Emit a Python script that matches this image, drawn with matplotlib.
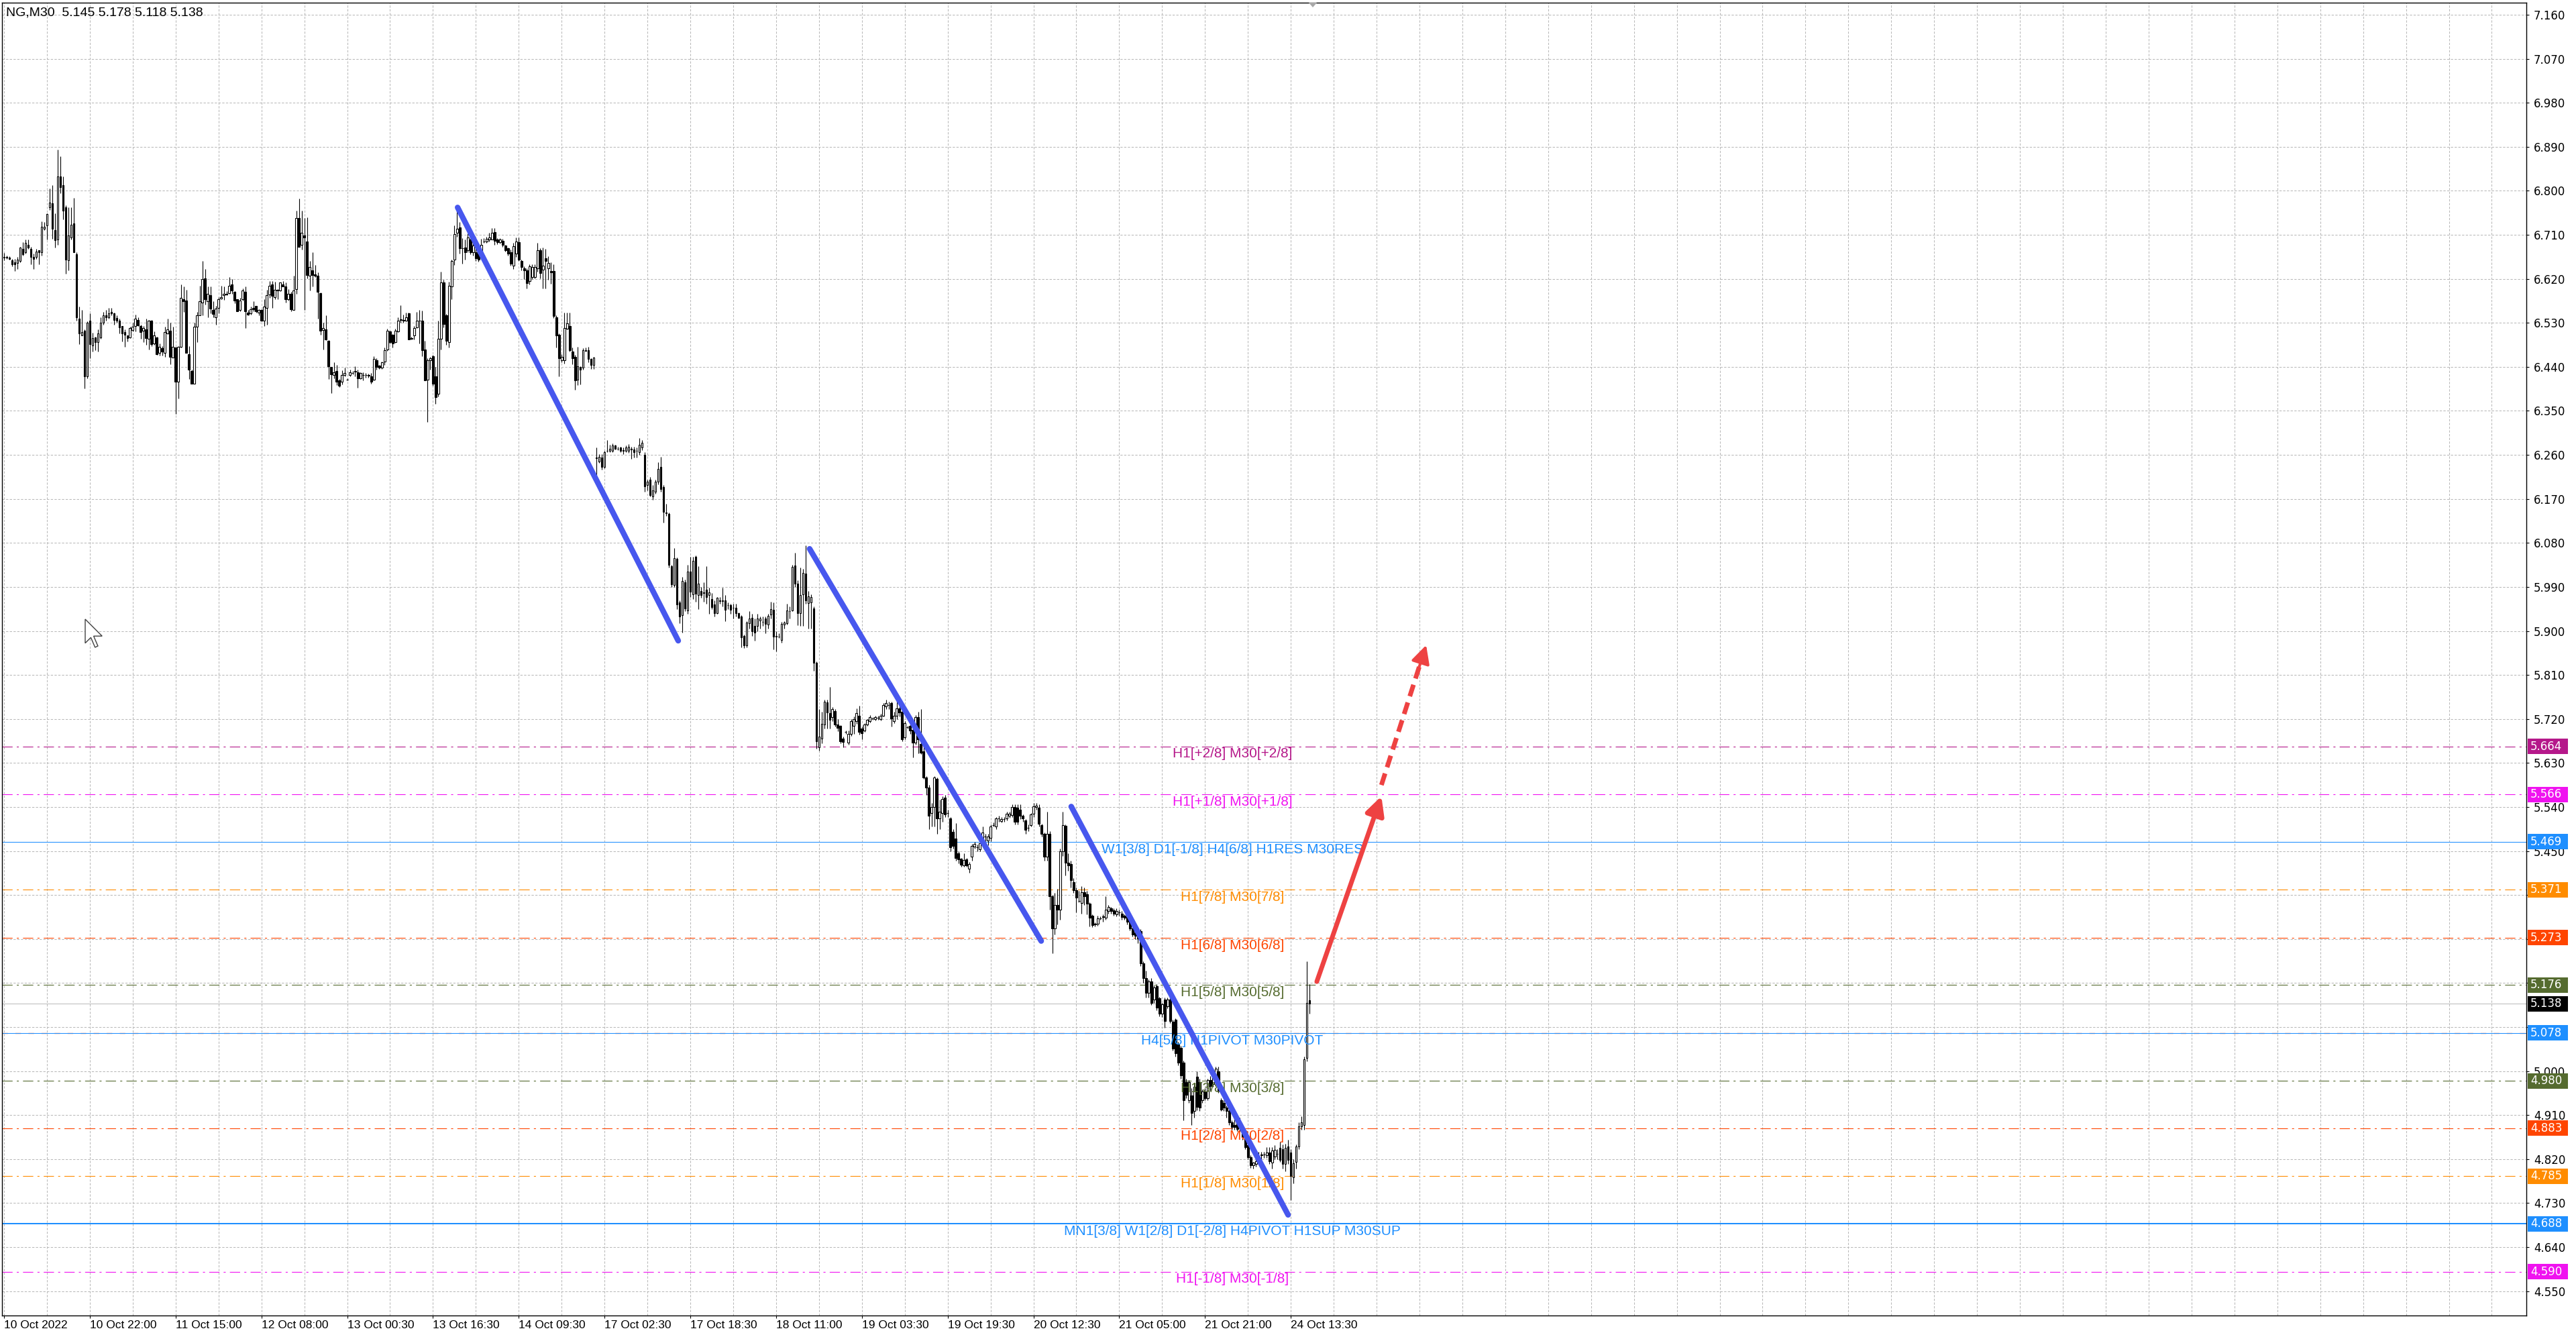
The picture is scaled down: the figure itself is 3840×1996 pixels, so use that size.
import numpy as np
import matplotlib
matplotlib.use('Agg')
import matplotlib.pyplot as plt
from matplotlib.patches import Rectangle, Polygon
import matplotlib.transforms as mtransforms

plt.rcParams['lines.scale_dashes'] = False

# ---- NG M30 candles (bar 0 = first visible bar) ----
opens = [
    6.664, 6.665, 6.664, 6.658, 6.654, 6.653, 6.656, 6.681, 6.674, 6.690,
    6.681, 6.665, 6.665, 6.678, 6.674, 6.722, 6.729, 6.766, 6.774, 6.720,
    6.700, 6.829, 6.811, 6.766, 6.658, 6.705, 6.733, 6.670, 6.539, 6.504,
    6.514, 6.420, 6.535, 6.484, 6.500, 6.491, 6.500, 6.530, 6.545, 6.542,
    6.552, 6.549, 6.540, 6.535, 6.523, 6.511, 6.505, 6.500, 6.515, 6.523,
    6.536, 6.524, 6.514, 6.516, 6.497, 6.535, 6.488, 6.500, 6.468, 6.478,
    6.469, 6.508, 6.514, 6.459, 6.479, 6.409, 6.481, 6.578, 6.576, 6.466,
    6.432, 6.405, 6.522, 6.545, 6.572, 6.621, 6.574, 6.586, 6.557, 6.541,
    6.561, 6.580, 6.586, 6.589, 6.591, 6.608, 6.593, 6.578, 6.556, 6.579,
    6.593, 6.551, 6.550, 6.560, 6.564, 6.551, 6.556, 6.535, 6.561, 6.588,
    6.609, 6.583, 6.596, 6.596, 6.608, 6.605, 6.578, 6.589, 6.556, 6.599,
    6.744, 6.689, 6.709, 6.696, 6.627, 6.638, 6.629, 6.627, 6.591, 6.515,
    6.516, 6.494, 6.440, 6.424, 6.431, 6.412, 6.410, 6.424, 6.414, 6.424,
    6.428, 6.430, 6.429, 6.416, 6.424, 6.423, 6.423, 6.421, 6.414, 6.454,
    6.442, 6.438, 6.451, 6.476, 6.513, 6.506, 6.491, 6.513, 6.536, 6.536,
    6.535, 6.549, 6.498, 6.504, 6.521, 6.535, 6.535, 6.476, 6.414, 6.453,
    6.462, 6.420, 6.385, 6.498, 6.613, 6.546, 6.491, 6.604, 6.660, 6.714,
    6.725, 6.682, 6.684, 6.679, 6.700, 6.674, 6.674, 6.672, 6.667, 6.697,
    6.697, 6.700, 6.700, 6.715, 6.700, 6.695, 6.698, 6.688, 6.682, 6.674,
    6.647, 6.672, 6.695, 6.657, 6.642, 6.637, 6.615, 6.624, 6.623, 6.641,
    6.679, 6.639, 6.662, 6.641, 6.636, 6.636, 6.541, 6.506, 6.454, 6.453,
    6.518, 6.524, 6.472, 6.461, 6.414, 6.440, 6.439, 6.473, 6.474, 6.456,
    6.444, 6.254, 6.247, 6.255, 6.235, 6.268, 6.268, 6.268, 6.279, 6.273,
    6.275, 6.270, 6.268, 6.268, 6.272, 6.271, 6.268, 6.266, 6.275, 6.260,
    6.198, 6.210, 6.175, 6.185, 6.205, 6.235, 6.194, 6.142, 6.140, 6.033,
    5.994, 6.047, 5.959, 5.932, 5.999, 5.942, 6.021, 5.975, 6.051, 5.974,
    5.982, 5.979, 5.984, 5.973, 5.965, 5.954, 5.937, 5.962, 5.961, 5.963,
    5.953, 5.953, 5.948, 5.948, 5.936, 5.930, 5.890, 5.871, 5.916, 5.927,
    5.911, 5.911, 5.921, 5.918, 5.925, 5.913, 5.933, 5.943, 5.889, 5.888,
    5.881, 5.913, 5.916, 5.940, 5.942, 6.034, 5.997, 5.937, 5.975, 6.017,
    5.957, 5.959, 5.946, 5.835, 5.662, 5.680, 5.709, 5.754, 5.732, 5.724,
    5.736, 5.709, 5.706, 5.680, 5.693, 5.672, 5.690, 5.706, 5.715, 5.727,
    5.700, 5.697, 5.709, 5.715, 5.721, 5.720, 5.722, 5.720, 5.727, 5.746,
    5.749, 5.752, 5.716, 5.727, 5.742, 5.735, 5.683, 5.703, 5.706, 5.698,
    5.671, 5.724, 5.669, 5.654, 5.600, 5.580, 5.528, 5.540, 5.598, 5.516,
    5.528, 5.559, 5.528, 5.517, 5.489, 5.476, 5.446, 5.434, 5.421, 5.433,
    5.414, 5.439, 5.459, 5.457, 5.454, 5.471, 5.479, 5.471, 5.477, 5.503,
    5.500, 5.516, 5.511, 5.515, 5.516, 5.522, 5.524, 5.540, 5.538, 5.534,
    5.522, 5.513, 5.497, 5.503, 5.526, 5.540, 5.538, 5.503, 5.485, 5.439,
    5.485, 5.357, 5.292, 5.340, 5.330, 5.449, 5.501, 5.426, 5.423, 5.387,
    5.370, 5.348, 5.344, 5.366, 5.362, 5.342, 5.318, 5.301, 5.301, 5.312,
    5.315, 5.313, 5.327, 5.333, 5.329, 5.320, 5.324, 5.322, 5.318, 5.315,
    5.307, 5.292, 5.283, 5.278, 5.286, 5.220, 5.190, 5.160, 5.183, 5.146,
    5.174, 5.149, 5.117, 5.146, 5.133, 5.146, 5.101, 5.105, 5.055, 5.048,
    5.018, 4.977, 4.941, 4.950, 4.918, 4.989, 4.977, 4.941, 4.959, 4.945,
    4.982, 4.973, 4.982, 5.000, 4.941, 4.935, 4.925, 4.918, 4.895, 4.890,
    4.895, 4.895, 4.880, 4.863, 4.849, 4.824, 4.807, 4.810, 4.825, 4.828,
    4.829, 4.828, 4.834, 4.813, 4.825, 4.831, 4.843, 4.840, 4.810, 4.846,
    4.834, 4.783, 4.815, 4.846, 4.887, 4.890, 5.027, 5.145,
]
highs = [
    6.673, 6.668, 6.666, 6.661, 6.661, 6.665, 6.686, 6.695, 6.700, 6.700,
    6.686, 6.672, 6.681, 6.679, 6.738, 6.736, 6.754, 6.805, 6.811, 6.754,
    6.884, 6.870, 6.830, 6.770, 6.766, 6.766, 6.785, 6.674, 6.563, 6.557,
    6.517, 6.533, 6.549, 6.510, 6.501, 6.517, 6.542, 6.552, 6.556, 6.561,
    6.561, 6.551, 6.545, 6.538, 6.524, 6.517, 6.505, 6.522, 6.531, 6.547,
    6.541, 6.526, 6.524, 6.538, 6.536, 6.536, 6.513, 6.501, 6.488, 6.483,
    6.522, 6.539, 6.531, 6.522, 6.481, 6.483, 6.609, 6.605, 6.597, 6.482,
    6.435, 6.531, 6.552, 6.606, 6.656, 6.640, 6.604, 6.604, 6.574, 6.565,
    6.583, 6.606, 6.604, 6.595, 6.624, 6.620, 6.595, 6.579, 6.581, 6.600,
    6.604, 6.556, 6.563, 6.574, 6.565, 6.558, 6.558, 6.579, 6.597, 6.615,
    6.615, 6.614, 6.599, 6.613, 6.615, 6.613, 6.599, 6.593, 6.627, 6.759,
    6.784, 6.759, 6.745, 6.746, 6.656, 6.674, 6.648, 6.633, 6.592, 6.531,
    6.545, 6.495, 6.440, 6.450, 6.444, 6.415, 6.433, 6.439, 6.416, 6.434,
    6.432, 6.441, 6.434, 6.429, 6.429, 6.428, 6.426, 6.428, 6.462, 6.458,
    6.444, 6.451, 6.480, 6.518, 6.514, 6.507, 6.518, 6.542, 6.566, 6.547,
    6.551, 6.551, 6.501, 6.524, 6.553, 6.557, 6.555, 6.494, 6.458, 6.461,
    6.464, 6.440, 6.535, 6.634, 6.618, 6.548, 6.614, 6.660, 6.729, 6.760,
    6.736, 6.703, 6.700, 6.713, 6.706, 6.706, 6.686, 6.675, 6.702, 6.703,
    6.706, 6.714, 6.724, 6.724, 6.703, 6.703, 6.702, 6.690, 6.684, 6.680,
    6.694, 6.705, 6.704, 6.660, 6.645, 6.641, 6.650, 6.650, 6.650, 6.693,
    6.683, 6.684, 6.681, 6.666, 6.654, 6.650, 6.546, 6.508, 6.466, 6.551,
    6.551, 6.551, 6.479, 6.464, 6.481, 6.441, 6.478, 6.479, 6.481, 6.458,
    6.461, 6.275, 6.262, 6.262, 6.268, 6.290, 6.281, 6.283, 6.281, 6.277,
    6.277, 6.275, 6.279, 6.282, 6.276, 6.276, 6.275, 6.295, 6.290, 6.265,
    6.210, 6.215, 6.198, 6.210, 6.245, 6.256, 6.198, 6.160, 6.142, 6.035,
    6.070, 6.050, 5.962, 6.010, 6.005, 6.035, 6.052, 6.052, 6.055, 6.032,
    5.990, 6.000, 6.033, 5.988, 5.977, 5.962, 5.970, 5.970, 5.989, 5.973,
    5.958, 5.955, 5.955, 5.955, 5.938, 5.932, 5.892, 5.920, 5.940, 5.935,
    5.925, 5.935, 5.930, 5.930, 5.930, 5.935, 5.960, 5.958, 5.900, 5.895,
    5.918, 5.920, 5.955, 5.950, 6.035, 6.060, 6.003, 6.030, 6.027, 6.075,
    5.982, 5.975, 5.950, 5.838, 5.740, 5.735, 5.760, 5.760, 5.785, 5.745,
    5.740, 5.720, 5.708, 5.684, 5.697, 5.696, 5.720, 5.725, 5.742, 5.747,
    5.704, 5.712, 5.720, 5.728, 5.724, 5.727, 5.726, 5.730, 5.752, 5.760,
    5.755, 5.755, 5.735, 5.760, 5.750, 5.737, 5.715, 5.706, 5.710, 5.700,
    5.728, 5.735, 5.740, 5.680, 5.603, 5.585, 5.548, 5.603, 5.600, 5.555,
    5.562, 5.565, 5.535, 5.520, 5.495, 5.507, 5.450, 5.436, 5.445, 5.436,
    5.427, 5.465, 5.468, 5.463, 5.470, 5.500, 5.485, 5.485, 5.505, 5.508,
    5.520, 5.522, 5.520, 5.520, 5.530, 5.530, 5.545, 5.545, 5.545, 5.545,
    5.525, 5.515, 5.505, 5.528, 5.548, 5.548, 5.545, 5.506, 5.488, 5.530,
    5.490, 5.360, 5.365, 5.372, 5.455, 5.530, 5.505, 5.445, 5.430, 5.395,
    5.375, 5.368, 5.378, 5.375, 5.368, 5.345, 5.320, 5.304, 5.318, 5.316,
    5.320, 5.357, 5.340, 5.336, 5.333, 5.333, 5.330, 5.328, 5.321, 5.318,
    5.312, 5.300, 5.288, 5.285, 5.290, 5.225, 5.205, 5.188, 5.190, 5.175,
    5.178, 5.152, 5.140, 5.150, 5.150, 5.150, 5.105, 5.108, 5.060, 5.052,
    5.022, 4.985, 4.982, 4.965, 4.975, 5.000, 4.985, 4.962, 4.965, 4.985,
    4.990, 4.998, 5.009, 5.009, 4.945, 4.940, 4.930, 4.922, 4.900, 4.905,
    4.900, 4.905, 4.890, 4.868, 4.852, 4.828, 4.815, 4.820, 4.835, 4.835,
    4.835, 4.845, 4.845, 4.845, 4.848, 4.840, 4.855, 4.850, 4.852, 4.860,
    4.840, 4.820, 4.850, 4.895, 4.908, 5.030, 5.224, 5.178,
]
lows = [
    6.658, 6.661, 6.659, 6.645, 6.636, 6.640, 6.654, 6.668, 6.672, 6.681,
    6.650, 6.640, 6.661, 6.650, 6.668, 6.720, 6.700, 6.761, 6.702, 6.684,
    6.690, 6.795, 6.741, 6.630, 6.638, 6.700, 6.674, 6.535, 6.487, 6.504,
    6.396, 6.417, 6.458, 6.472, 6.474, 6.472, 6.497, 6.526, 6.535, 6.538,
    6.545, 6.526, 6.531, 6.508, 6.492, 6.481, 6.492, 6.499, 6.513, 6.513,
    6.524, 6.497, 6.490, 6.485, 6.476, 6.483, 6.485, 6.465, 6.463, 6.463,
    6.460, 6.507, 6.446, 6.459, 6.344, 6.376, 6.479, 6.553, 6.468, 6.415,
    6.406, 6.405, 6.490, 6.545, 6.545, 6.567, 6.542, 6.549, 6.542, 6.526,
    6.549, 6.579, 6.577, 6.586, 6.589, 6.590, 6.570, 6.554, 6.554, 6.576,
    6.520, 6.545, 6.547, 6.554, 6.551, 6.545, 6.533, 6.524, 6.526, 6.581,
    6.560, 6.579, 6.579, 6.595, 6.604, 6.571, 6.576, 6.554, 6.556, 6.589,
    6.685, 6.680, 6.556, 6.621, 6.596, 6.605, 6.624, 6.538, 6.506, 6.476,
    6.495, 6.415, 6.386, 6.417, 6.403, 6.399, 6.404, 6.420, 6.412, 6.421,
    6.425, 6.421, 6.398, 6.415, 6.413, 6.418, 6.418, 6.405, 6.413, 6.434,
    6.436, 6.436, 6.444, 6.473, 6.488, 6.480, 6.489, 6.511, 6.531, 6.531,
    6.533, 6.496, 6.496, 6.496, 6.519, 6.488, 6.462, 6.412, 6.328, 6.434,
    6.401, 6.365, 6.380, 6.476, 6.521, 6.485, 6.479, 6.578, 6.648, 6.706,
    6.672, 6.651, 6.660, 6.674, 6.670, 6.668, 6.656, 6.655, 6.662, 6.694,
    6.694, 6.697, 6.700, 6.690, 6.691, 6.692, 6.686, 6.676, 6.668, 6.647,
    6.640, 6.665, 6.657, 6.637, 6.620, 6.600, 6.608, 6.620, 6.621, 6.635,
    6.621, 6.600, 6.600, 6.618, 6.610, 6.540, 6.480, 6.421, 6.450, 6.447,
    6.516, 6.471, 6.446, 6.393, 6.403, 6.404, 6.434, 6.471, 6.450, 6.436,
    6.436, 6.215, 6.243, 6.230, 6.233, 6.265, 6.266, 6.266, 6.271, 6.270,
    6.266, 6.261, 6.265, 6.264, 6.252, 6.254, 6.254, 6.260, 6.270, 6.185,
    6.188, 6.175, 6.168, 6.180, 6.200, 6.185, 6.122, 6.135, 6.030, 5.990,
    5.990, 5.945, 5.916, 5.897, 5.940, 5.935, 5.970, 5.965, 5.960, 5.945,
    5.968, 5.960, 5.955, 5.935, 5.945, 5.930, 5.935, 5.955, 5.950, 5.920,
    5.945, 5.935, 5.925, 5.930, 5.925, 5.866, 5.865, 5.866, 5.905, 5.890,
    5.880, 5.900, 5.905, 5.910, 5.895, 5.905, 5.925, 5.862, 5.858, 5.885,
    5.876, 5.905, 5.913, 5.925, 5.940, 5.990, 5.912, 5.910, 5.910, 5.955,
    5.905, 5.905, 5.818, 5.660, 5.655, 5.670, 5.700, 5.700, 5.700, 5.715,
    5.705, 5.695, 5.670, 5.662, 5.690, 5.668, 5.685, 5.690, 5.710, 5.688,
    5.678, 5.693, 5.706, 5.713, 5.718, 5.717, 5.718, 5.717, 5.725, 5.740,
    5.740, 5.705, 5.712, 5.720, 5.725, 5.675, 5.678, 5.700, 5.690, 5.642,
    5.668, 5.650, 5.648, 5.598, 5.565, 5.495, 5.500, 5.500, 5.485, 5.495,
    5.510, 5.520, 5.520, 5.450, 5.455, 5.430, 5.425, 5.418, 5.418, 5.418,
    5.405, 5.430, 5.455, 5.450, 5.450, 5.465, 5.470, 5.462, 5.470, 5.500,
    5.495, 5.510, 5.508, 5.510, 5.512, 5.518, 5.520, 5.505, 5.505, 5.515,
    5.510, 5.485, 5.490, 5.500, 5.520, 5.535, 5.500, 5.480, 5.430, 5.430,
    5.330, 5.241, 5.280, 5.300, 5.310, 5.440, 5.400, 5.410, 5.375, 5.365,
    5.325, 5.345, 5.322, 5.340, 5.320, 5.296, 5.295, 5.296, 5.297, 5.309,
    5.305, 5.310, 5.322, 5.322, 5.318, 5.316, 5.318, 5.310, 5.310, 5.300,
    5.288, 5.275, 5.270, 5.262, 5.215, 5.180, 5.150, 5.150, 5.135, 5.140,
    5.125, 5.112, 5.110, 5.089, 5.128, 5.098, 5.042, 5.030, 5.012, 4.985,
    4.899, 4.945, 4.935, 4.890, 4.905, 4.920, 4.918, 4.935, 4.940, 4.940,
    4.960, 4.968, 4.978, 4.955, 4.918, 4.918, 4.905, 4.890, 4.880, 4.880,
    4.878, 4.876, 4.860, 4.840, 4.820, 4.802, 4.800, 4.805, 4.815, 4.820,
    4.822, 4.822, 4.810, 4.800, 4.820, 4.820, 4.815, 4.800, 4.795, 4.810,
    4.736, 4.770, 4.800, 4.840, 4.880, 4.880, 5.020, 5.118,
]
closes = [
    6.665, 6.664, 6.661, 6.650, 6.650, 6.659, 6.684, 6.670, 6.693, 6.684,
    6.665, 6.661, 6.676, 6.674, 6.726, 6.727, 6.752, 6.776, 6.722, 6.699,
    6.830, 6.808, 6.760, 6.660, 6.709, 6.730, 6.674, 6.541, 6.508, 6.511,
    6.420, 6.530, 6.487, 6.499, 6.490, 6.509, 6.530, 6.545, 6.541, 6.549,
    6.550, 6.536, 6.535, 6.521, 6.508, 6.506, 6.499, 6.520, 6.522, 6.538,
    6.525, 6.511, 6.520, 6.499, 6.535, 6.487, 6.504, 6.466, 6.481, 6.472,
    6.511, 6.516, 6.460, 6.481, 6.410, 6.481, 6.581, 6.574, 6.468, 6.434,
    6.406, 6.522, 6.545, 6.574, 6.620, 6.578, 6.589, 6.559, 6.548, 6.559,
    6.579, 6.582, 6.589, 6.588, 6.606, 6.596, 6.576, 6.554, 6.576, 6.596,
    6.554, 6.547, 6.558, 6.558, 6.554, 6.557, 6.535, 6.563, 6.586, 6.606,
    6.585, 6.597, 6.597, 6.612, 6.605, 6.578, 6.590, 6.558, 6.596, 6.745,
    6.685, 6.714, 6.704, 6.628, 6.644, 6.628, 6.627, 6.593, 6.514, 6.520,
    6.496, 6.441, 6.425, 6.429, 6.409, 6.402, 6.424, 6.427, 6.414, 6.429,
    6.428, 6.432, 6.416, 6.428, 6.423, 6.423, 6.422, 6.410, 6.456, 6.440,
    6.438, 6.449, 6.474, 6.514, 6.491, 6.488, 6.514, 6.535, 6.537, 6.535,
    6.542, 6.496, 6.499, 6.520, 6.535, 6.535, 6.474, 6.412, 6.454, 6.458,
    6.406, 6.378, 6.498, 6.613, 6.528, 6.493, 6.606, 6.657, 6.712, 6.722,
    6.682, 6.682, 6.675, 6.704, 6.675, 6.688, 6.662, 6.660, 6.690, 6.697,
    6.702, 6.704, 6.714, 6.698, 6.695, 6.700, 6.690, 6.679, 6.672, 6.651,
    6.687, 6.697, 6.659, 6.644, 6.637, 6.611, 6.646, 6.644, 6.644, 6.679,
    6.632, 6.647, 6.656, 6.653, 6.633, 6.544, 6.504, 6.458, 6.461, 6.520,
    6.529, 6.474, 6.458, 6.413, 6.441, 6.434, 6.474, 6.474, 6.456, 6.444,
    6.459, 6.253, 6.256, 6.235, 6.266, 6.269, 6.273, 6.279, 6.273, 6.273,
    6.268, 6.269, 6.275, 6.276, 6.271, 6.265, 6.268, 6.281, 6.285, 6.195,
    6.205, 6.178, 6.188, 6.205, 6.232, 6.190, 6.143, 6.141, 6.035, 5.996,
    6.049, 5.954, 5.930, 6.002, 5.946, 6.021, 5.980, 6.043, 5.976, 5.997,
    5.973, 5.978, 5.970, 5.979, 5.949, 5.936, 5.968, 5.961, 5.962, 5.943,
    5.953, 5.943, 5.948, 5.936, 5.927, 5.887, 5.871, 5.917, 5.925, 5.900,
    5.896, 5.925, 5.925, 5.918, 5.914, 5.931, 5.945, 5.888, 5.890, 5.888,
    5.915, 5.917, 5.942, 5.940, 6.031, 5.997, 5.937, 5.973, 6.019, 5.962,
    5.971, 5.969, 5.835, 5.675, 5.684, 5.710, 5.755, 5.733, 5.718, 5.740,
    5.709, 5.702, 5.675, 5.673, 5.693, 5.690, 5.715, 5.720, 5.732, 5.693,
    5.691, 5.709, 5.718, 5.724, 5.721, 5.724, 5.722, 5.726, 5.749, 5.753,
    5.749, 5.721, 5.726, 5.742, 5.733, 5.679, 5.712, 5.703, 5.697, 5.671,
    5.724, 5.678, 5.651, 5.601, 5.580, 5.522, 5.540, 5.600, 5.516, 5.530,
    5.556, 5.525, 5.528, 5.457, 5.460, 5.436, 5.433, 5.422, 5.431, 5.421,
    5.424, 5.460, 5.465, 5.457, 5.466, 5.488, 5.479, 5.479, 5.500, 5.503,
    5.516, 5.516, 5.515, 5.515, 5.526, 5.526, 5.540, 5.510, 5.510, 5.522,
    5.516, 5.493, 5.497, 5.525, 5.542, 5.543, 5.506, 5.485, 5.439, 5.485,
    5.357, 5.292, 5.340, 5.330, 5.449, 5.503, 5.426, 5.420, 5.390, 5.370,
    5.355, 5.348, 5.366, 5.357, 5.342, 5.313, 5.298, 5.300, 5.312, 5.312,
    5.316, 5.330, 5.336, 5.327, 5.322, 5.327, 5.324, 5.315, 5.313, 5.306,
    5.292, 5.280, 5.276, 5.271, 5.220, 5.190, 5.160, 5.183, 5.139, 5.171,
    5.130, 5.117, 5.137, 5.103, 5.146, 5.103, 5.046, 5.037, 5.018, 4.991,
    4.941, 4.952, 4.977, 4.915, 4.968, 4.927, 4.925, 4.959, 4.945, 4.982,
    4.970, 4.995, 5.005, 4.960, 4.922, 4.925, 4.918, 4.895, 4.886, 4.886,
    4.882, 4.886, 4.865, 4.845, 4.824, 4.808, 4.813, 4.816, 4.825, 4.829,
    4.829, 4.834, 4.816, 4.837, 4.839, 4.831, 4.819, 4.810, 4.843, 4.819,
    4.786, 4.812, 4.846, 4.887, 4.895, 5.024, 5.140, 5.138,
]
assert len(opens) == len(highs) == len(lows) == len(closes)

time_labels = ['10 Oct 2022', '10 Oct 22:00', '11 Oct 15:00', '12 Oct 08:00',
               '13 Oct 00:30', '13 Oct 16:30', '14 Oct 09:30', '17 Oct 02:30',
               '17 Oct 18:30', '18 Oct 11:00', '19 Oct 03:30', '19 Oct 19:30',
               '20 Oct 12:30', '21 Oct 05:00', '21 Oct 21:00', '24 Oct 13:30']
label_step = 32  # bars between time labels

# Murrey math levels
level_prices = [5.664, 5.566, 5.469, 5.371, 5.273, 5.176, 5.078, 4.980, 4.883, 4.785, 4.688, 4.590]
level_names = ['H1[+2/8] M30[+2/8]', 'H1[+1/8] M30[+1/8]',
               'W1[3/8] D1[-1/8] H4[6/8] H1RES M30RES',
               'H1[7/8] M30[7/8]', 'H1[6/8] M30[6/8]', 'H1[5/8] M30[5/8]',
               'H4[5/8] H1PIVOT M30PIVOT',
               'H1[3/8] M30[3/8]', 'H1[2/8] M30[2/8]', 'H1[1/8] M30[1/8]',
               'MN1[3/8] W1[2/8] D1[-2/8] H4PIVOT H1SUP M30SUP',
               'H1[-1/8] M30[-1/8]']
level_colors = ['#B5188A', '#F012F0', '#1E8FFF', '#FF8C00', '#FF4500', '#556B2F',
                '#1E8FFF', '#556B2F', '#FF4500', '#FF8C00', '#1E8FFF', '#F012F0']
level_solid = [False, False, True, False, False, False, True, False, False, False, True, False]

bid_price = closes[-1]

# hand drawn trend lines and forecast arrow (bar, price)
trend_lines = [((169.2, 6.766), (251.5, 5.880)),
               ((300.5, 6.068), (386.9, 5.266)),
               ((398.1, 5.541), (479.0, 4.706))]
arrow_solid = ((489.7, 5.183), (513.8, 5.562))
arrow_dashed = ((513.8, 5.585), (530.5, 5.871))

W, H = 3840, 1996
fig = plt.figure(figsize=(W / 100, H / 100), dpi=100)
fig.patch.set_facecolor('white')
ax = fig.add_axes([3 / W, 35 / H, 3763 / W, 1957 / H])
ax.set_xlim(-0.75, 940.9)
ax.set_ylim(4.5002, 7.1847)

box_prices = level_prices[:6] + [bid_price] + level_prices[6:]
box_colors = level_colors[:6] + ['black'] + level_colors[6:]

# grid and scales (scale labels hidden by a price box are left blank)
ax.set_axisbelow(True)
yt = np.round(np.arange(4.55, 7.161, 0.09), 3)
ax.set_yticks(yt)
ax.set_yticklabels(['' if min(abs(v - b) for b in box_prices) < 0.016 else '%.3f' % v
                    for v in yt])
ax.set_xticks(np.arange(0, label_step * len(time_labels), label_step))
ax.set_xticklabels(time_labels, ha='left', fontsize=12.5, family='Liberation Sans')
ax.set_xticks(np.arange(16, 940, 16), minor=True)
grid_kw = dict(color='#B9B9B9', linestyle=(0, (2.4, 1.6)), linewidth=0.75)
ax.grid(True, which='major', axis='both', **grid_kw)
ax.grid(True, which='minor', axis='x', **grid_kw)
ax.yaxis.tick_right()
ax.tick_params(axis='y', which='major', length=3, width=0.8, pad=5, labelsize=12)
ax.tick_params(axis='x', which='major', length=3, width=0.8, pad=2)
ax.tick_params(axis='x', which='minor', length=0)
for s in ax.spines.values():
    s.set_color('black')
    s.set_linewidth(1.0)

# candles
o = np.array(opens); h = np.array(highs); l = np.array(lows); c = np.array(closes)
x = np.arange(len(o))
hi = np.maximum(h, np.maximum(o, c))
lo = np.minimum(l, np.minimum(o, c))
up = c >= o
ax.vlines(x, lo, hi, color='black', linewidth=0.8, zorder=2)
blo = np.minimum(o, c)
bh = np.abs(c - o)
ax.bar(x[up], bh[up], bottom=blo[up], width=0.66, facecolor='white',
       edgecolor='black', linewidth=0.8, zorder=2.1)
ax.bar(x[~up], bh[~up], bottom=blo[~up], width=0.66, facecolor='black',
       edgecolor='black', linewidth=0.8, zorder=2.1)

# bid line
ax.axhline(bid_price, color='#C0C0C0', linewidth=0.8, zorder=1.4)

# levels
dashdot = (0, (11, 4.5, 2.2, 4.5))
for p, name, col, solid in zip(level_prices, level_names, level_colors, level_solid):
    if solid:
        lw = 1.45 if p == 4.688 else 0.75
        if p == 5.078:
            ax.axhline(p, color='#FF4500', linewidth=0.9, linestyle=(0, (6, 8)), zorder=1.45)
        ax.axhline(p, color=col, linewidth=lw, zorder=1.5)
    else:
        ax.axhline(p, color=col, linewidth=0.8, linestyle=dashdot, zorder=1.5)
    ax.annotate(name, xy=(458.2, p), xytext=(0, -8.2), textcoords='offset points',
                ha='center', va='center', fontsize=15, family='Liberation Sans',
                color=col, zorder=2.5)

# price boxes at the right scale
btr = mtransforms.blended_transform_factory(fig.transFigure, ax.transData)
hh = 11.5 * (7.1847 - 4.5002) / 1957
for p, col in zip(box_prices, box_colors):
    ax.add_patch(Rectangle((3768 / W, p - hh), 60 / W, 2 * hh, transform=btr,
                           facecolor=col, edgecolor='none', clip_on=False, zorder=5))
    ax.text(3772 / W, p, '%.3f' % p, transform=btr, color='white', fontsize=12,
            va='center', ha='left', clip_on=False, zorder=6)

# trend lines
for (x0, y0), (x1, y1) in trend_lines:
    ax.plot([x0, x1], [y0, y1], color='#4757EE', linewidth=6,
            solid_capstyle='round', zorder=3)

# forecast arrow
red = '#EE4242'
ax.annotate('', xy=arrow_solid[1], xytext=arrow_solid[0],
            arrowprops=dict(arrowstyle='-|>,head_length=0.55,head_width=0.28',
                            color=red, lw=5, shrinkA=0, shrinkB=0, mutation_scale=30),
            zorder=3)
(dx0, dy0), (dx1, dy1) = arrow_dashed
ax.plot([dx0, dx0 + (dx1 - dx0) * 0.86], [dy0, dy0 + (dy1 - dy0) * 0.86], color=red,
        linewidth=5, linestyle=(0, (13, 7)), zorder=3)
ax.annotate('', xy=arrow_dashed[1], xytext=(dx0 + (dx1 - dx0) * 0.8, dy0 + (dy1 - dy0) * 0.8),
            arrowprops=dict(arrowstyle='-|>,head_length=0.55,head_width=0.28',
                            color=red, lw=3, shrinkA=0, shrinkB=0, mutation_scale=30),
            zorder=3)

# header
fig.text(9 / W, 1 - 19 / H,
         'NG,M30  %.3f %.3f %.3f %.3f' % (opens[-1], highs[-1], lows[-1], closes[-1]),
         fontsize=14, family='Liberation Sans', va='center', ha='left')

# chart shift marker
tri = [(1951, 4), (1963, 4), (1957, 11)]
fig.patches.append(Polygon([(px / W, 1 - py / H) for px, py in tri], closed=True,
                           transform=fig.transFigure, facecolor='#A8A8A8',
                           edgecolor='none', zorder=10))

# mouse pointer
cur = [(0, 0), (0, 17), (4, 13), (7, 20), (9, 19), (6, 12), (12, 12)]
fig.patches.append(Polygon([((127 + ux * 2.1) / W, 1 - (923 + uy * 2.1) / H) for ux, uy in cur],
                           closed=True, transform=fig.transFigure, facecolor='white',
                           edgecolor='#404040', linewidth=1.0, zorder=10))

fig.savefig('out.png', dpi=100, facecolor='white')
